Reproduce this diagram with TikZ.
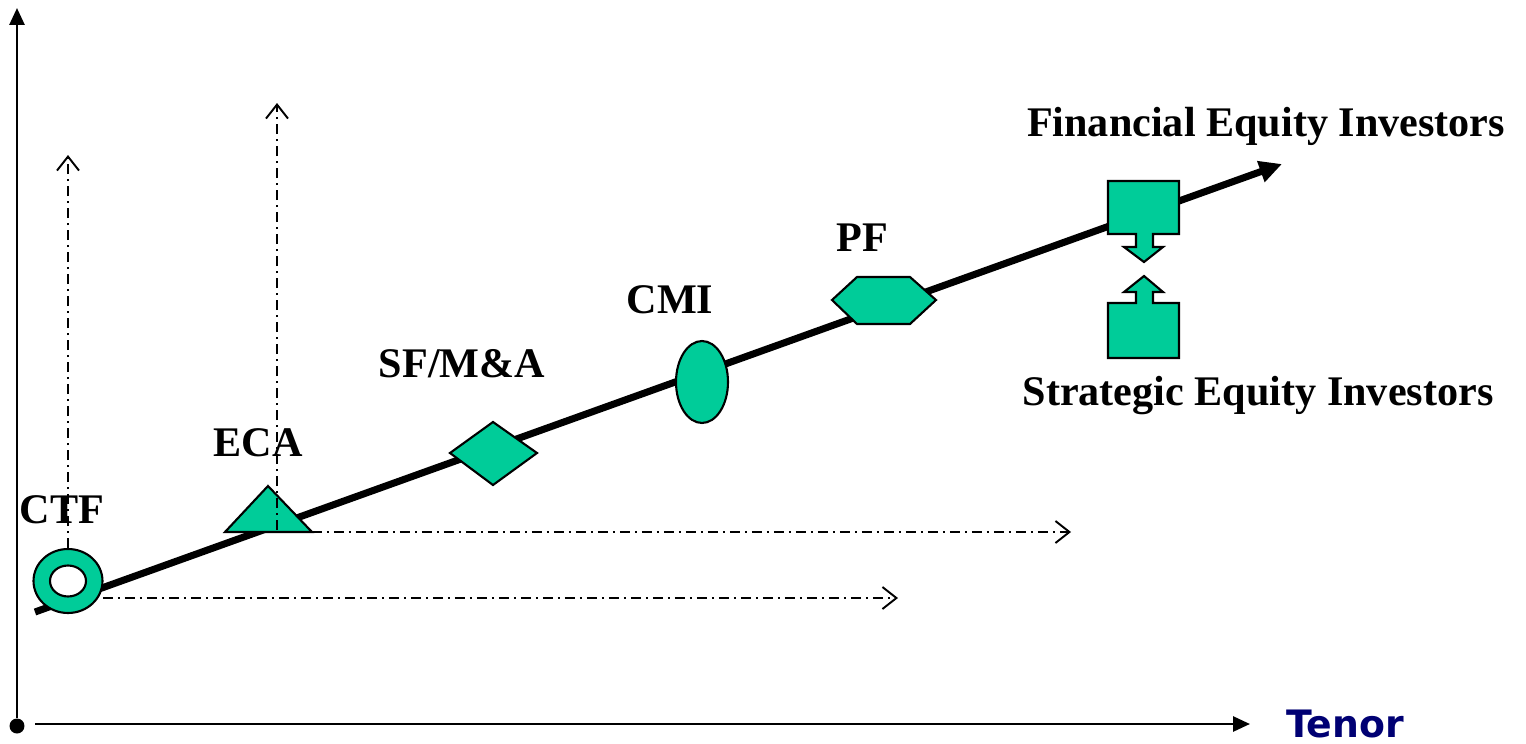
\documentclass[tikz,border=0pt]{standalone}
\usepackage{fontspec}
\setmainfont{Liberation Serif}
\newfontfamily\verd{DejaVu Sans}
\usetikzlibrary{arrows.meta,shapes.geometric}
\definecolor{eqgreen}{RGB}{0,204,153}
\definecolor{navyax}{RGB}{0,0,115}
\tikzset{
  shapeobj/.style={draw=black, line width=1.2pt, fill=eqgreen, line join=miter},
  guide/.style={line width=1pt, dash pattern=on 0.2cm off 0.1cm on 0.04cm off 0.1cm, -{Straight Barb[length=0.28cm,width=0.44cm,line width=1.1pt]}},
  lbl/.style={font=\fontsize{24}{28}\selectfont\bfseries, inner sep=0pt},
  axis/.style={line width=1.6pt, -{Triangle[length=0.34cm,width=0.3cm]}},
}
\begin{document}
\begin{tikzpicture}[x=0.02cm,y=-0.02cm]
\useasboundingbox (0,0) rectangle (1526,744);
% axes
\node[circle, fill=black, inner sep=0pt, minimum size=0.3cm] (origin) at (17,726) {};
\coordinate (ytop) at (17,8);
\coordinate (xstart) at (35,724);
\coordinate (xend) at (1250,724);
\draw[axis] (origin) -- (ytop);
\draw[axis] (xstart) -- (xend);
\node[font=\verd\bfseries\fontsize{21.5}{24}\selectfont, text=navyax, inner sep=0pt, anchor=base] (tenor) at (1345,737) {Tenor};
% main line
\coordinate (ls) at (35,612);
\coordinate (le) at (1282,164);
\draw[line width=4pt, -{Triangle[length=0.45cm,width=0.42cm]}] (ls) -- (le);
% guides
\coordinate (ctfup) at (68,548);
\coordinate (ctfupend) at (68,155);
\coordinate (ctfr) at (103,598);
\coordinate (ctfrend) at (898,598);
\coordinate (ecaup) at (277,530);
\coordinate (ecaupend) at (277,103);
\coordinate (ecar) at (312,532);
\coordinate (ecarend) at (1071,532);
\draw[guide] (ctfup) -- (ctfupend);
\draw[guide] (ecaup) -- (ecaupend);
% CTF ring
\node[ellipse, shapeobj, minimum width=1.38cm, minimum height=1.28cm, inner sep=0pt] (ctf) at (68,581) {};
\node[ellipse, draw=black, line width=1.2pt, fill=white, minimum width=0.72cm, minimum height=0.62cm, inner sep=0pt] (ctfhole) at (ctf) {};
\draw[guide] (ctfr) -- (ctfrend);
% ECA triangle
\coordinate (t1) at (225,532);
\coordinate (t2) at (312,532);
\coordinate (t3) at (268,486);
\draw[shapeobj] (t1) -- (t2) -- (t3) -- cycle;
\draw[guide] (ecar) -- (ecarend);
\draw[line width=1pt, dash pattern=on 0.2cm off 0.1cm on 0.04cm off 0.1cm] (277,530) -- (277,498);
% diamond
\coordinate (d1) at (450,453);
\coordinate (d2) at (493,422);
\coordinate (d3) at (537,453);
\coordinate (d4) at (493,485);
\draw[shapeobj] (d1) -- (d2) -- (d3) -- (d4) -- cycle;
% CMI ellipse
\node[ellipse, shapeobj, minimum width=1.04cm, minimum height=1.64cm, inner sep=0pt] (cmi) at (702,382) {};
% PF hexagon
\coordinate (h1) at (832,300);
\coordinate (h2) at (857,277);
\coordinate (h3) at (910,277);
\coordinate (h4) at (936,300);
\coordinate (h5) at (910,324);
\coordinate (h6) at (857,324);
\draw[shapeobj] (h1) -- (h2) -- (h3) -- (h4) -- (h5) -- (h6) -- cycle;
% Financial block (down arrow callout)
\draw[shapeobj] (1108,181) -- (1179,181) -- (1179,234) -- (1153,234) -- (1153,247) -- (1163,247)
  -- (1144,262) -- (1124,247) -- (1136,247) -- (1136,234) -- (1108,234) -- cycle;
% Strategic block (up arrow callout)
\draw[shapeobj] (1108,358) -- (1179,358) -- (1179,303) -- (1153,303) -- (1153,292) -- (1163,292)
  -- (1144,276) -- (1124,292) -- (1136,292) -- (1136,303) -- (1108,303) -- cycle;
% labels
\node[lbl] (lctf) at (62,510) {CTF};
\node[lbl] (leca) at (258,443) {ECA};
\node[lbl] (lsf) at (462,364) {SF/M\&A};
\node[lbl] (lcmi) at (670,300) {CMI};
\node[lbl] (lpf) at (862,238) {PF};
\node[lbl] (lfin) at (1266,126) {Financial Equity Investors};
\node[lbl] (lstr) at (1258,396) {Strategic Equity Investors};
\end{tikzpicture}
\end{document}
